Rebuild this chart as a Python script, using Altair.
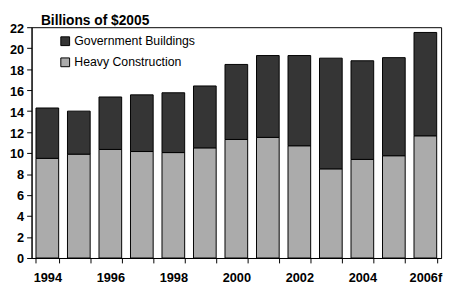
import altair as alt
import pandas as pd

years = ["1994", "1995", "1996", "1997", "1998", "1999", "2000",
         "2001", "2002", "2003", "2004", "2005", "2006f"]
heavy = [9.5, 9.9, 10.35, 10.15, 10.05, 10.5, 11.3, 11.5, 10.7, 8.5, 9.4, 9.75, 11.65]
total = [14.3, 14.0, 15.35, 15.55, 15.75, 16.4, 18.45, 19.3, 19.3, 19.05, 18.8, 19.1, 21.5]
gov = [round(t - h, 2) for t, h in zip(total, heavy)]
series = ["Government Buildings", "Heavy Construction"]
colors = ["#353535", "#ababab"]
shown_labels = ["1994", "1996", "1998", "2000", "2002", "2004", "2006f"]

rows = []
for y, h, g in zip(years, heavy, gov):
    rows.append({"year": y, "series": "Heavy Construction", "value": h, "ord": 0})
    rows.append({"year": y, "series": "Government Buildings", "value": g, "ord": 1})
df = pd.DataFrame(rows)

FONT = "Liberation Sans"
label_test = "indexof(" + str(shown_labels).replace("'", '"') + ", datum.value) >= 0 ? datum.label : ''"

chart = alt.Chart(df).mark_bar(stroke="black", strokeWidth=1).encode(
    x=alt.X("year:N", sort=years, title=None,
            scale=alt.Scale(paddingInner=0.28, paddingOuter=0.14),
            axis=alt.Axis(labelAngle=0, tickBand="extent", labelExpr=label_test,
                          labelFont=FONT, labelFontSize=13, labelFontWeight="bold",
                          labelColor="black", domainColor="black", tickColor="black",
                          tickSize=5, labelPadding=9, domainWidth=1)),
    y=alt.Y("value:Q", stack="zero",
            scale=alt.Scale(domain=[0, 22], nice=False),
            axis=alt.Axis(values=list(range(0, 23, 2)), grid=False,
                          title="Billions of $2005", titleAngle=0, titleX=9, titleY=-3,
                          titleAlign="left", titleBaseline="alphabetic",
                          titleFont=FONT, titleFontSize=14, titleFontWeight="bold",
                          titleColor="black",
                          labelFont=FONT, labelFontSize=13, labelFontWeight="bold",
                          labelColor="black", domainColor="black", tickColor="black",
                          tickSize=5, labelPadding=3, labelOffset=1, domainWidth=1)),
    color=alt.Color("series:N", scale=alt.Scale(domain=series, range=colors),
                    legend=alt.Legend(title=None, orient="none", legendX=28, legendY=8,
                                      symbolType="square", symbolSize=80,
                                      symbolStrokeColor="black", symbolStrokeWidth=1,
                                      labelFont=FONT, labelFontSize=12.5, labelColor="black",
                                      rowPadding=7.5, labelOffset=3)),
    order=alt.Order("ord:Q", sort="ascending"),
).properties(
    width=417, height=235,
    autosize=alt.AutoSizeParams(type="none"),
    padding={"left": 24, "top": 17, "right": 6, "bottom": 29},
).configure_view(stroke="black", strokeWidth=1)

chart.save("out.html", embed_options={"renderer": "svg", "actions": False})
